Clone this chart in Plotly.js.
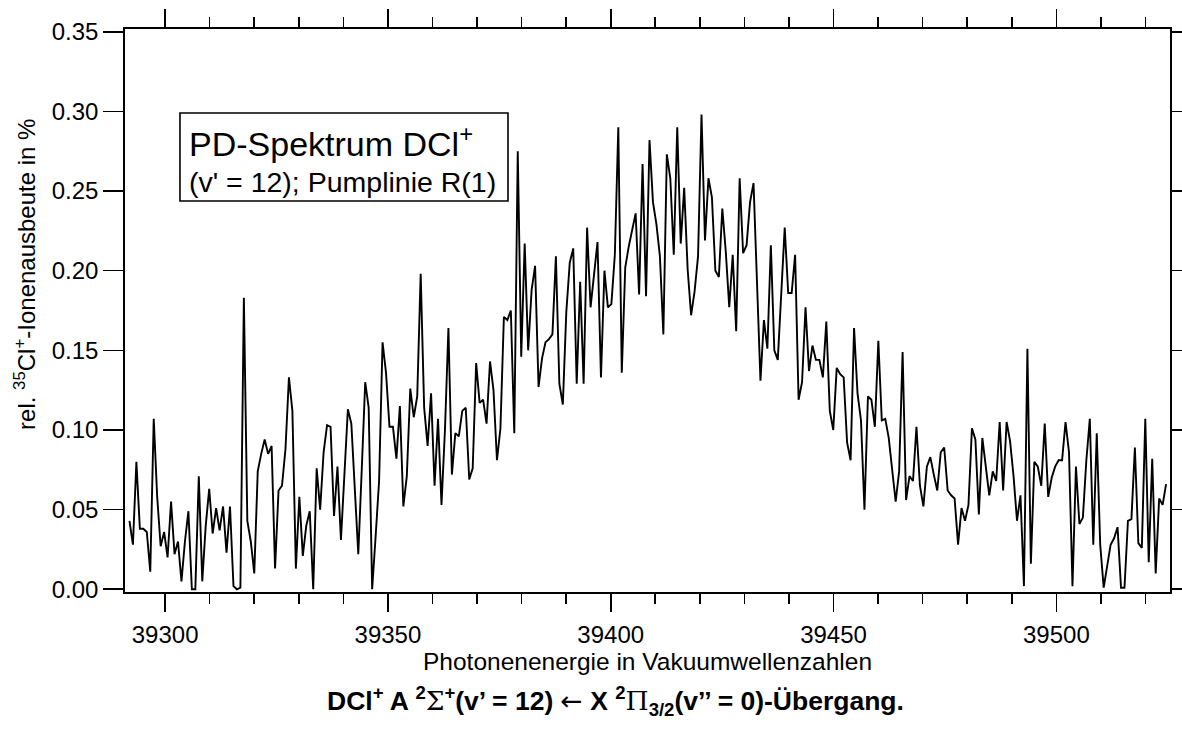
<!DOCTYPE html>
<html>
<head>
<meta charset="utf-8">
<script src="https://cdn.plot.ly/plotly-3.0.1.min.js"></script>
<style>
  html, body { margin: 0; padding: 0; background: #ffffff; }
  #chart { width: 1182px; height: 731px; }
</style>
</head>
<body>
<div id="chart"></div>
<script>
// Photon energy grid (vacuum wavenumbers): first point and spacing of the scan
const X_START = 39292.0;
const X_STEP = 0.778;

// rel. 35Cl+ ion yield in %
const ionYield = [
  0.043, 0.028, 0.080, 0.038, 0.038, 0.036, 0.011, 0.107, 0.058, 0.027,
  0.036, 0.020, 0.055, 0.022, 0.030, 0.005, 0.030, 0.049, 0.000, 0.000,
  0.071, 0.005, 0.040, 0.063, 0.035, 0.051, 0.037, 0.052, 0.023, 0.052,
  0.002, 0.000, 0.001, 0.183, 0.043, 0.030, 0.010, 0.074, 0.085, 0.094,
  0.085, 0.090, 0.013, 0.062, 0.065, 0.088, 0.133, 0.112, 0.013, 0.058,
  0.021, 0.040, 0.049, 0.000, 0.076, 0.050, 0.086, 0.103, 0.102, 0.046,
  0.077, 0.031, 0.072, 0.113, 0.104, 0.060, 0.022, 0.075, 0.130, 0.114,
  0.000, 0.033, 0.068, 0.155, 0.136, 0.102, 0.102, 0.082, 0.115, 0.052,
  0.071, 0.126, 0.108, 0.121, 0.198, 0.114, 0.090, 0.123, 0.065, 0.107,
  0.053, 0.100, 0.164, 0.072, 0.098, 0.096, 0.112, 0.114, 0.069, 0.076,
  0.142, 0.117, 0.119, 0.104, 0.143, 0.125, 0.081, 0.101, 0.171, 0.169,
  0.175, 0.098, 0.275, 0.146, 0.217, 0.150, 0.188, 0.203, 0.127, 0.145,
  0.155, 0.157, 0.160, 0.209, 0.129, 0.116, 0.174, 0.205, 0.214, 0.129,
  0.193, 0.129, 0.227, 0.177, 0.196, 0.218, 0.133, 0.200, 0.177, 0.179,
  0.210, 0.290, 0.136, 0.202, 0.215, 0.225, 0.236, 0.185, 0.267, 0.184,
  0.282, 0.243, 0.229, 0.209, 0.160, 0.273, 0.258, 0.210, 0.290, 0.217,
  0.252, 0.201, 0.172, 0.187, 0.209, 0.298, 0.219, 0.258, 0.246, 0.200,
  0.196, 0.239, 0.212, 0.177, 0.210, 0.162, 0.258, 0.211, 0.216, 0.243,
  0.255, 0.193, 0.131, 0.169, 0.151, 0.216, 0.150, 0.144, 0.185, 0.227,
  0.186, 0.186, 0.210, 0.119, 0.130, 0.177, 0.137, 0.153, 0.144, 0.144,
  0.133, 0.168, 0.112, 0.100, 0.139, 0.135, 0.133, 0.092, 0.081, 0.164,
  0.123, 0.106, 0.050, 0.121, 0.119, 0.102, 0.156, 0.106, 0.107, 0.095,
  0.075, 0.055, 0.074, 0.149, 0.056, 0.071, 0.068, 0.102, 0.065, 0.052,
  0.077, 0.083, 0.072, 0.062, 0.086, 0.089, 0.062, 0.059, 0.057, 0.028,
  0.051, 0.043, 0.053, 0.101, 0.094, 0.047, 0.095, 0.077, 0.059, 0.074,
  0.068, 0.105, 0.062, 0.105, 0.093, 0.071, 0.043, 0.059, 0.002, 0.151,
  0.016, 0.080, 0.077, 0.065, 0.104, 0.058, 0.070, 0.077, 0.081, 0.081,
  0.105, 0.086, 0.002, 0.077, 0.041, 0.045, 0.081, 0.107, 0.028, 0.098,
  0.028, 0.001, 0.016, 0.028, 0.032, 0.039, 0.001, 0.001, 0.043, 0.044,
  0.089, 0.029, 0.026, 0.107, 0.017, 0.082, 0.010, 0.057, 0.053, 0.066
];

// Axis ranges and tick labels
const xRange = [39291, 39525.5];
const yRange = [-0.0017, 0.3517];
const xTickVals = [39300, 39350, 39400, 39450, 39500];
const xTickText = ['39300', '39350', '39400', '39450', '39500'];
const yTickVals = [0.00, 0.05, 0.10, 0.15, 0.20, 0.25, 0.30, 0.35];
const yTickText = ['0.00', '0.05', '0.10', '0.15', '0.20', '0.25', '0.30', '0.35'];

// Texts
const xTitle = 'Photonenenergie in Vakuumwellenzahlen';
const yTitle = 'rel. <sup>35</sup>Cl<sup>+</sup>-Ionenausbeute in %';
const boxLine1 = 'PD-Spektrum DCl<sup>+</sup>';
const boxLine2 = "(v' = 12); Pumplinie R(1)";
const caption = "<b>DCl<sup>+</sup> A <sup>2</sup></b><span style=\"font-family:'DejaVu Serif', serif\">Σ</span><b><sup>+</sup>(v’ = 12) </b><span style=\"font-family:'DejaVu Sans', sans-serif\">←</span><b> X <sup>2</sup></b><span style=\"font-family:'DejaVu Serif', serif\">Π</span><b><sub>3/2</sub>(v’’ = 0)-Übergang.</b>";

const FONT = 'Arial, "Liberation Sans", Helvetica, sans-serif';

const trace = {
  type: 'scatter',
  mode: 'lines',
  x0: X_START,
  dx: X_STEP,
  y: ionYield,
  line: { color: '#000000', width: 1.9 },
  hoverinfo: 'x+y'
};

const layout = {
  width: 1182,
  height: 731,
  margin: { l: 125, r: 12, t: 29, b: 139 },
  paper_bgcolor: '#ffffff',
  plot_bgcolor: '#ffffff',
  showlegend: false,
  font: { family: FONT, color: '#000000', size: 24 },
  xaxis: {
    range: xRange,
    tickmode: 'array',
    tickvals: xTickVals,
    ticktext: xTickText,
    ticks: 'outside',
    ticklen: 18,
    tickwidth: 1.6,
    tickcolor: '#000000',
    ticklabelstandoff: 2,
    minor: { dtick: 10, tick0: 39300, ticks: 'outside', ticklen: 10, tickwidth: 1.6, tickcolor: '#000000' },
    showline: true,
    linecolor: '#000000',
    linewidth: 1.8,
    mirror: 'ticks',
    showgrid: false,
    zeroline: false,
    tickfont: { family: FONT, size: 24 },
    title: { text: xTitle, font: { family: FONT, size: 24.5 }, standoff: 6 }
  },
  yaxis: {
    range: yRange,
    tickmode: 'array',
    tickvals: yTickVals,
    ticktext: yTickText,
    ticks: 'outside',
    ticklen: 20,
    tickwidth: 1.6,
    tickcolor: '#000000',
    showline: true,
    linecolor: '#000000',
    linewidth: 1.8,
    mirror: 'ticks',
    showgrid: false,
    zeroline: false,
    tickfont: { family: FONT, size: 24 }
  },
  shapes: [
    {
      type: 'rect', xref: 'paper', yref: 'paper',
      x0: 0.0526, x1: 0.3665, y0: 0.6945, y1: 0.8508,
      line: { color: '#000000', width: 1.6 },
      fillcolor: '#ffffff',
      layer: 'above'
    }
  ],
  annotations: [
    {
      xref: 'paper', yref: 'paper',
      x: -0.0957, y: 0.565,
      xanchor: 'center', yanchor: 'middle',
      textangle: -90,
      showarrow: false,
      text: yTitle,
      font: { family: FONT, size: 24, color: '#000000' }
    },
    {
      xref: 'paper', yref: 'paper',
      x: 0.0593, y: 0.800,
      xanchor: 'left', yanchor: 'middle',
      align: 'left',
      showarrow: false,
      text: boxLine1,
      font: { family: FONT, size: 34, color: '#000000' }
    },
    {
      xref: 'paper', yref: 'paper',
      x: 0.0593, y: 0.729,
      xanchor: 'left', yanchor: 'middle',
      align: 'left',
      showarrow: false,
      text: boxLine2,
      font: { family: FONT, size: 28.5, color: '#000000' }
    },
    {
      xref: 'paper', yref: 'paper',
      x: 0.469, y: -0.1936,
      xanchor: 'center', yanchor: 'middle',
      showarrow: false,
      text: caption,
      font: { family: FONT, size: 26.5, color: '#000000' }
    }
  ]
};

Plotly.newPlot('chart', [trace], layout, { displayModeBar: false, staticPlot: true });
</script>
</body>
</html>
